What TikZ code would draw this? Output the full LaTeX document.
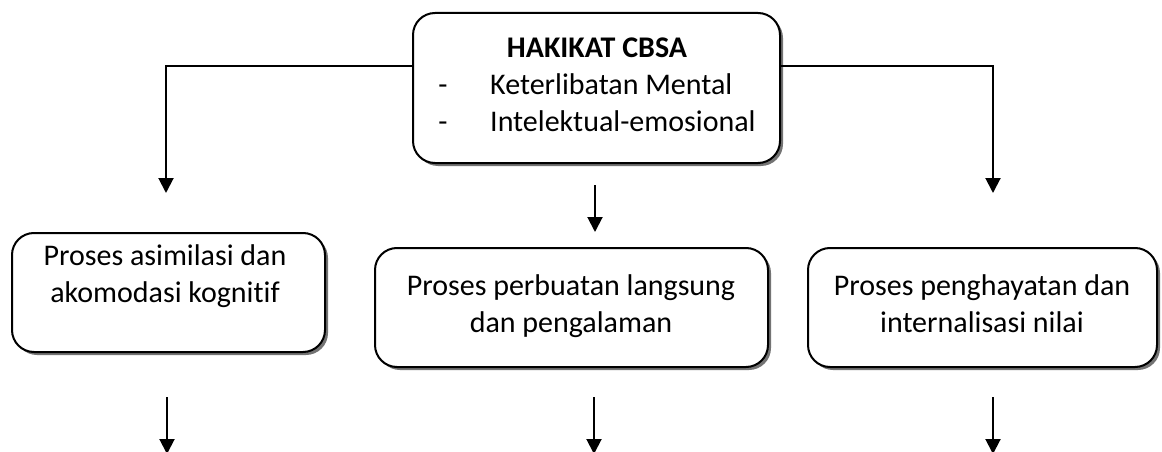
\documentclass[tikz,border=0pt]{standalone}
\usepackage{fontspec}
\setmainfont[Ligatures=CommonOff]{Carlito}
\usetikzlibrary{arrows.meta,shadows}
\begin{document}
\begin{tikzpicture}[x=1pt,y=-1pt,
  box/.style={draw=black,line width=2pt,rounded corners=22pt,fill=white,
    drop shadow={shadow xshift=3pt,shadow yshift=-3pt,fill=black!55,opacity=1},
    inner sep=0pt},
  lbl/.style={anchor=base,inner sep=0pt,font=\fontsize{30}{36}\selectfont},
  arr/.style={line width=2pt,-{Triangle[width=15pt,length=15pt]}}]
\useasboundingbox (0,0) rectangle (1162,452);
% boxes
\node[box,minimum width=367pt,minimum height=150pt] (top) at (596.5,88) {};
\node[box,minimum width=313pt,minimum height=119pt] (left) at (168.5,292.5) {};
\node[box,minimum width=393pt,minimum height=119pt] (mid) at (571.5,307.5) {};
\node[box,minimum width=349pt,minimum height=119pt] (right) at (982.5,307.5) {};
% top box text
\node[lbl,font=\fontsize{30}{36}\selectfont\bfseries] (t1) at (597,58) {HAKIKAT CBSA};
\node[lbl] (d2) at (443,95) {-};
\node[lbl,anchor=base west] (t2) at (490,95) {Keterlibatan Mental};
\node[lbl] (d3) at (443,131) {-};
\node[lbl,anchor=base west] (t3) at (490,131) {Intelektual-emosional};
% left box text
\node[lbl] (l1) at (165,265) {Proses asimilasi dan};
\node[lbl] (l2) at (165,302) {akomodasi kognitif};
% middle box text
\node[lbl] (m1) at (571,295) {Proses perbuatan langsung};
\node[lbl] (m2) at (571,332) {dan pengalaman};
% right box text
\node[lbl] (r1) at (982,295) {Proses penghayatan dan};
\node[lbl] (r2) at (982,332) {internalisasi nilai};
% connector ends
\coordinate (hy) at (0,66);
\coordinate (ltip) at (166,193);
\coordinate (rtip) at (993,193);
\coordinate (ms) at (595,185);
\coordinate (me) at (595,232);
\coordinate (bls) at (167,397);
\coordinate (ble) at (167,454);
\coordinate (bms) at (594,397);
\coordinate (bme) at (594,454);
\coordinate (brs) at (993,397);
\coordinate (bre) at (993,454);
% connectors
\draw[arr] (top.west |- hy) -| (ltip);
\draw[arr] (top.east |- hy) -| (rtip);
\draw[arr] (ms) -- (me);
\draw[arr] (bls) -- (ble);
\draw[arr] (bms) -- (bme);
\draw[arr] (brs) -- (bre);
\end{tikzpicture}
\end{document}
